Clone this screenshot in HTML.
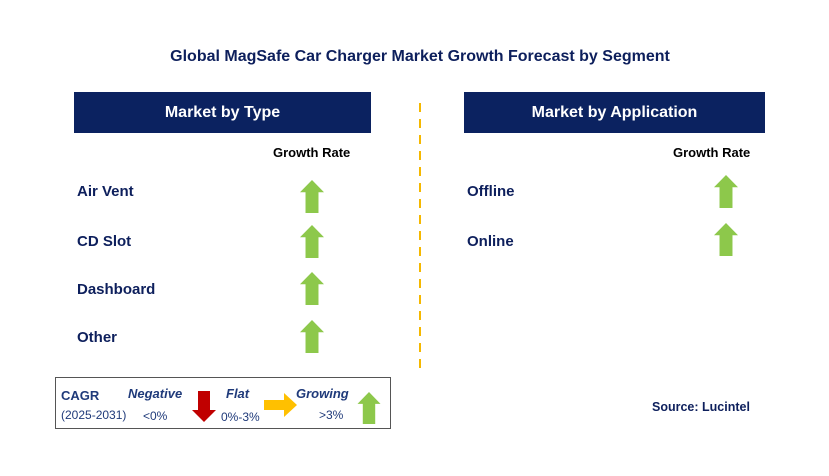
<!DOCTYPE html>
<html><head><meta charset="utf-8"><style>
body{margin:0;width:829px;height:476px;background:#fff;position:relative;overflow:hidden;font-family:"Liberation Sans",Arial,sans-serif}
.a{position:absolute;white-space:nowrap}
.t{font-weight:bold;color:#0d1f5c;font-size:15px}
.box{position:absolute;background:#0b2260;color:#fff;font-weight:bold;font-size:16px;text-align:center;line-height:41px}
.gr{font-weight:bold;font-size:13px;color:#000}
.lbl{font-weight:bold;font-size:15px;color:#0d1f5c}
.lg{color:#1f3a7a;font-size:12px}
.lgi{color:#1f3a7a;font-size:13px;font-weight:bold;font-style:italic}
</style></head><body>
<div class="a t" style="left:0;width:840px;text-align:center;top:48px;font-size:16px">Global MagSafe Car Charger Market Growth Forecast by Segment</div>
<div class="box" style="left:74px;top:92px;width:297px;height:41px">Market by Type</div>
<div class="box" style="left:464px;top:92px;width:301px;height:41px">Market by Application</div>
<svg class="a" style="left:0;top:0" width="829" height="476">
<line x1="420" y1="103" x2="420" y2="375" stroke="#f5b800" stroke-width="2" stroke-dasharray="9,7"/>
<g id="arrows"></g>
</svg>
<div class="a gr" style="left:273px;top:145px">Growth Rate</div>
<div class="a gr" style="left:673px;top:145px">Growth Rate</div>
<div class="a lbl" style="left:77px;top:183px">Air Vent</div>
<div class="a lbl" style="left:77px;top:233px">CD Slot</div>
<div class="a lbl" style="left:77px;top:281px">Dashboard</div>
<div class="a lbl" style="left:77px;top:329px">Other</div>
<div class="a lbl" style="left:467px;top:183px">Offline</div>
<div class="a lbl" style="left:467px;top:233px">Online</div>
<div class="a" style="left:55px;top:377px;width:334px;height:50px;border:1px solid #555"></div>
<div class="a lg" style="left:61px;top:388px;font-weight:bold;font-size:13px">CAGR</div>
<div class="a lg" style="left:61px;top:408px">(2025-2031)</div>
<div class="a lgi" style="left:128px;top:386px">Negative</div>
<div class="a lg" style="left:143px;top:409px">&lt;0%</div>
<div class="a lgi" style="left:226px;top:386px">Flat</div>
<div class="a lg" style="left:221px;top:410px">0%-3%</div>
<div class="a lgi" style="left:296px;top:386px">Growing</div>
<div class="a lg" style="left:319px;top:408px">&gt;3%</div>
<script>
const typeCategories=["Air Vent","CD Slot","Dashboard","Other"];
const typeTops=[180,225,272,320];
const appCategories=["Offline","Online"];
const appTops=[175,223];
const g=document.getElementById('arrows');
function up(cx,top,h,w,col,name){
  const hh=h*0.37,sw=w*0.54;
  const p=document.createElementNS('http://www.w3.org/2000/svg','polygon');
  p.setAttribute('points',[[cx,top],[cx+w/2,top+hh],[cx+sw/2,top+hh],[cx+sw/2,top+h],[cx-sw/2,top+h],[cx-sw/2,top+hh],[cx-w/2,top+hh]].map(a=>a.join(',')).join(' '));
  p.setAttribute('fill',col);
  
  
  g.appendChild(p);
}
typeCategories.forEach((c,i)=>up(312,typeTops[i],33,24,'#8dc84b','arrow-'+c.toLowerCase().replace(/ /g,'-')));
appCategories.forEach((c,i)=>up(726,appTops[i],33,24,'#8dc84b','arrow-'+c.toLowerCase()));
up(369,392,32,23,'#8dc84b','legend-growing-arrow');
const d=document.createElementNS('http://www.w3.org/2000/svg','polygon');
d.setAttribute('points','198,391 210,391 210,410 216,410 204,422 192,410 198,410');
d.setAttribute('fill','#c00000');


g.appendChild(d);
const r=document.createElementNS('http://www.w3.org/2000/svg','polygon');
r.setAttribute('points','264,400 284,400 284,393 297,405 284,417 284,410 264,410');
r.setAttribute('fill','#ffc000');


g.appendChild(r);
</script>
<div class="a" style="left:652px;top:400px;font-weight:bold;font-size:12.5px;color:#0d1f5c">Source: Lucintel</div>
</body></html>
